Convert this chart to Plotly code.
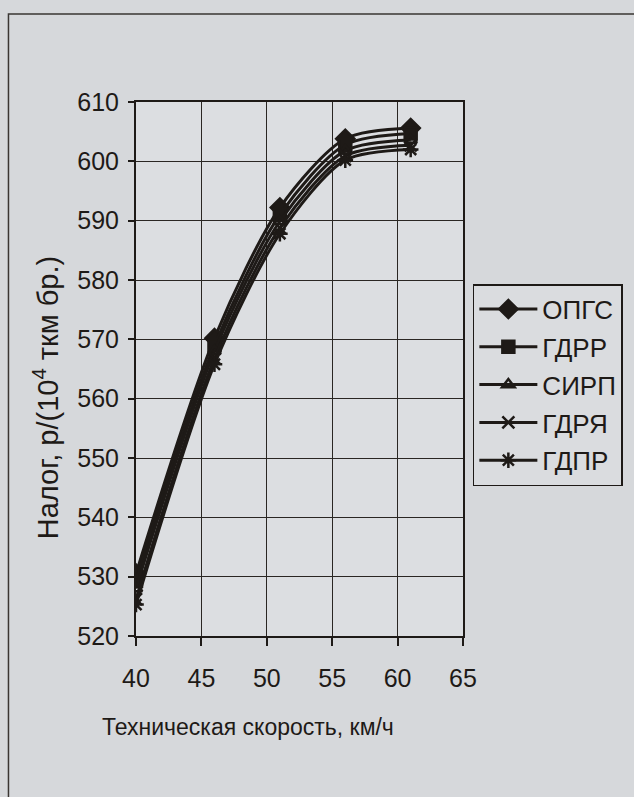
import plotly.graph_objects as go

speed = [40, 46, 51, 56, 61]
series_names = ["ОПГС", "ГДРР", "СИРП", "ГДРЯ", "ГДПР"]
opgs = [530.5, 570.2, 592.2, 603.8, 605.6]
gdrr = [529.3, 569.0, 591.0, 602.8, 604.7]
sirp = [528.0, 568.0, 589.9, 601.8, 603.6]
gdrya = [526.2, 566.8, 588.8, 600.9, 602.7]
gdpr = [525.3, 565.8, 587.8, 600.2, 602.0]
values = [opgs, gdrr, sirp, gdrya, gdpr]
x_ticks = [40, 45, 50, 55, 60, 65]
y_ticks = [520, 530, 540, 550, 560, 570, 580, 590, 600, 610]
x_title = "Техническая скорость, км/ч"
y_title = "Налог, р/(10<sup>4</sup> ткм бр.)"

symbols = ["diamond", "square", "triangle-up-open", "x-thin-open", "asterisk-open"]
sizes = [14, 12, 11, 12, 13]

ink = "#1e1a17"

fig = go.Figure()
for name, vals, sym, sz in zip(series_names, values, symbols, sizes):
    fig.add_trace(go.Scatter(
        x=speed, y=vals, name=name, mode="lines+markers",
        line=dict(color=ink, width=3, shape="spline", smoothing=0.8),
        marker=dict(symbol=sym, size=sz, color=ink,
                    line=dict(color=ink, width=2.5)),
        legendgroup=name,
    ))

fig.update_layout(
    width=634, height=797,
    margin=dict(l=136, r=170, t=102, b=161),
    paper_bgcolor="#d6d8db",
    plot_bgcolor="#dcdee1",
    font=dict(family="Liberation Sans, Arial, sans-serif", size=25, color=ink),
    showlegend=True,
    legend=dict(
        x=1.027, y=0.659, xanchor="left", yanchor="top",
        bgcolor="#dadcdf", bordercolor=ink, borderwidth=1.5,
        font=dict(size=26, color=ink),
        tracegroupgap=1, traceorder="grouped", itemwidth=58,
    ),
    xaxis=dict(
        range=[40, 65], tickvals=x_ticks, showgrid=True, gridcolor="#2a2623", gridwidth=1,
        showline=True, linecolor=ink, linewidth=2, mirror=True,
        ticks="outside", ticklen=8, tickcolor=ink, tickwidth=1.5,
        zeroline=False, ticklabelstandoff=11,
    ),
    yaxis=dict(
        range=[520, 610], tickvals=y_ticks, showgrid=True, gridcolor="#2a2623", gridwidth=1,
        showline=True, linecolor=ink, linewidth=2, mirror=True,
        ticks="outside", ticklen=6, tickcolor=ink, tickwidth=1.5,
        zeroline=False, ticklabelstandoff=4,
    ),
    annotations=[
        dict(text=x_title, xref="paper", yref="paper", x=0.341, y=-0.170,
             xanchor="center", yanchor="middle", showarrow=False,
             font=dict(size=23, color=ink)),
        dict(text=y_title, xref="paper", yref="paper", x=-0.277, y=0.446,
             xanchor="center", yanchor="middle", showarrow=False, textangle=-90,
             font=dict(size=29, color=ink)),
    ],
    shapes=[dict(type="rect", xref="paper", yref="paper",
                 x0=-0.39, x1=1.7, y0=-0.6, y1=1.165,
                 line=dict(color="#3a3633", width=1.5), fillcolor="rgba(0,0,0,0)",
                 layer="below")],
)

fig.write_html("out.html")
